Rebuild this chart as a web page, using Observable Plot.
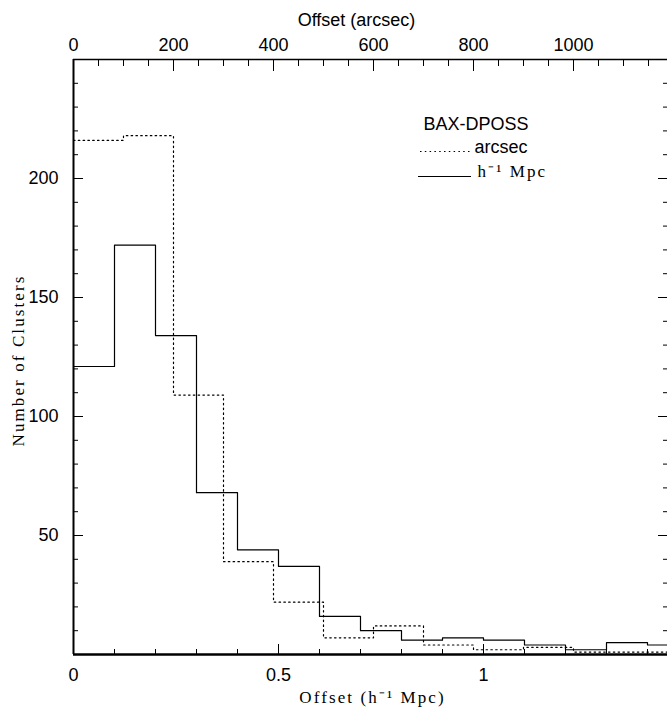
<!DOCTYPE html>
<html><head><meta charset="utf-8">
<script src="https://cdn.jsdelivr.net/npm/d3@7"></script>
<script src="https://cdn.jsdelivr.net/npm/@observablehq/plot@0.6"></script>
<style>
body{margin:0;background:#fff}
#chart{position:relative;width:667px;height:711px;overflow:hidden}
</style>
</head><body><div id="chart"></div>
<script>
// Histogram in physical units (h^-1 Mpc), bins of 0.1
const mpcBinStarts = [0, 0.1, 0.2, 0.3, 0.4, 0.5, 0.6, 0.7, 0.8, 0.9, 1.0, 1.1, 1.2, 1.3, 1.4];
const mpcBinEnd = 1.5;
const mpcCounts = [121, 172, 134, 68, 44, 37, 16, 10, 6, 7, 6, 4, 2, 5, 4];
// Histogram in angular units (arcsec), bins of 100
const arcsecBinStarts = [0, 100, 200, 300, 400, 500, 600, 700, 800, 900, 1000, 1100];
const arcsecBinEnd = 1200;
const arcsecCounts = [216, 218, 109, 39, 22, 7, 12, 4, 2, 3, 1, 1];
const arcsecPerMpc = 820;
// Ticks
const yMajorTicks = [50, 100, 150, 200];
const yMinorTicks = [10, 20, 30, 40, 60, 70, 80, 90, 110, 120, 130, 140, 160, 170, 180, 190, 210, 220, 230, 240];
const xMajorTicks = [0, 0.5, 1];
const xMinorTicks = [0.1, 0.2, 0.3, 0.4, 0.6, 0.7, 0.8, 0.9, 1.1, 1.2, 1.3, 1.4];
const xTickLabels = ["0", "0.5", "1"];
const topMajorTicks = [0, 200, 400, 600, 800, 1000];
const topMinorTicks = [50, 100, 150, 250, 300, 350, 450, 500, 550, 650, 700, 750, 850, 900, 950, 1050, 1100, 1150];
const legendTitle = "BAX-DPOSS";
const legendArcsec = "arcsec";
const legendMpc = "h\u207B\u00B9 Mpc";
const xTitle = "Offset (h\u207B\u00B9 Mpc)";
const yTitle = "Number of Clusters";
const topTitle = "Offset (arcsec)";

const mpcSteps = mpcBinStarts.map((s, i) => ({x: s, y: mpcCounts[i]}))
  .concat([{x: mpcBinEnd, y: mpcCounts[mpcCounts.length - 1]}]);
const arcSteps = arcsecBinStarts.map((s, i) => ({x: s / arcsecPerMpc, y: arcsecCounts[i]}))
  .concat([{x: arcsecBinEnd / arcsecPerMpc, y: arcsecCounts[arcsecCounts.length - 1]}]);

const sans = "'Liberation Sans', Arial, Helvetica, sans-serif";
const serif = "'Liberation Serif', 'Times New Roman', serif";
const blank = () => "";

const chart = Plot.plot({
  width: 667, height: 711,
  marginTop: 59, marginBottom: 57, marginLeft: 73, marginRight: 0,
  style: {fontFamily: sans, fontSize: "18px", background: "#fff", color: "#000"},
  x: {domain: [0, 594 / 410], label: null},
  y: {domain: [0, 250], label: null},
  marks: [
    Plot.line(arcSteps, {x: "x", y: "y", curve: "step-after", stroke: "#000", strokeWidth: 1.2, strokeDasharray: "1.5,3.3", clip: true}),
    Plot.line(mpcSteps, {x: "x", y: "y", curve: "step-after", stroke: "#000", strokeWidth: 1.2, clip: true}),
    // frame lines
    Plot.ruleX([0], {stroke: "#000", strokeWidth: 2}),
    Plot.ruleY([0], {stroke: "#000", strokeWidth: 2.5}),
    Plot.ruleY([250], {stroke: "#000", strokeWidth: 1.5}),
    // left axis
    Plot.axisY(yMinorTicks, {anchor: "left", tickSize: -5, tickFormat: blank, label: null}),
    Plot.axisY(yMajorTicks, {anchor: "left", tickSize: -10, tickFormat: blank, label: null}),
    Plot.axisY(yMajorTicks, {anchor: "left", tickSize: 0, tickPadding: 15, fontSize: 18, label: null}),
    // right axis
    Plot.axisY(yMinorTicks, {anchor: "right", tickSize: -5, tickFormat: blank, label: null}),
    Plot.axisY(yMajorTicks, {anchor: "right", tickSize: -10, tickFormat: blank, label: null}),
    // bottom axis
    Plot.axisX(xMinorTicks, {anchor: "bottom", tickSize: -5, tickFormat: blank, label: null}),
    Plot.axisX(xMajorTicks, {anchor: "bottom", tickSize: -10, tickFormat: blank, label: null}),
    Plot.axisX(xMajorTicks, {anchor: "bottom", tickSize: 0, tickPadding: 14, fontSize: 18, label: null,
      tickFormat: (d) => xTickLabels[xMajorTicks.indexOf(d)]}),
    // top axis (arcsec)
    Plot.axisX(topMinorTicks.map(a => a / arcsecPerMpc), {anchor: "top", tickSize: -6, tickFormat: blank, label: null}),
    Plot.axisX(topMajorTicks.map(a => a / arcsecPerMpc), {anchor: "top", tickSize: -11, tickFormat: blank, label: null}),
    Plot.axisX(topMajorTicks.map(a => a / arcsecPerMpc), {anchor: "top", tickSize: 0, tickPadding: 9, fontSize: 18, label: null,
      tickFormat: (d) => String(Math.round(d * arcsecPerMpc))}),
    // axis titles
    Plot.text([topTitle], {frameAnchor: "top-left", dx: 283, dy: -34, textAnchor: "middle", lineAnchor: "bottom", fontSize: 18, fontFamily: sans}),
    Plot.text([xTitle], {frameAnchor: "bottom-left", dx: 299, dy: 43, textAnchor: "middle", lineAnchor: "middle", fontSize: 17, fontFamily: serif}),
    Plot.text([yTitle], {frameAnchor: "top-left", dx: -55, dy: 301, rotate: -90, textAnchor: "middle", lineAnchor: "middle", fontSize: 17, fontFamily: serif}),
    // legend text
    Plot.text([legendTitle], {frameAnchor: "top-left", dx: 350, dy: 70, textAnchor: "start", lineAnchor: "bottom", fontSize: 18, fontFamily: sans}),
    Plot.text([legendArcsec], {frameAnchor: "top-left", dx: 401, dy: 93.5, textAnchor: "start", lineAnchor: "bottom", fontSize: 18, fontFamily: sans}),
    Plot.text([legendMpc], {frameAnchor: "top-left", dx: 404, dy: 117.5, textAnchor: "start", lineAnchor: "bottom", fontSize: 17, fontFamily: serif})
  ]
});

const svg = d3.select(chart);
// wide letter spacing of the original serif labels
svg.selectAll("text").filter(function() {
  const t = this.textContent;
  return t === xTitle || t === yTitle || t === legendMpc;
}).style("letter-spacing", "2.1px");

// legend line samples
svg.append("line").attr("x1", 420).attr("x2", 470).attr("y1", 151.5).attr("y2", 151.5)
  .attr("stroke", "#000").attr("stroke-width", 1.2).attr("stroke-dasharray", "1.5,3.3");
svg.append("line").attr("x1", 418).attr("x2", 471).attr("y1", 176.5).attr("y2", 176.5)
  .attr("stroke", "#000").attr("stroke-width", 1.2);

document.getElementById("chart").appendChild(chart);
</script>
</body></html>
